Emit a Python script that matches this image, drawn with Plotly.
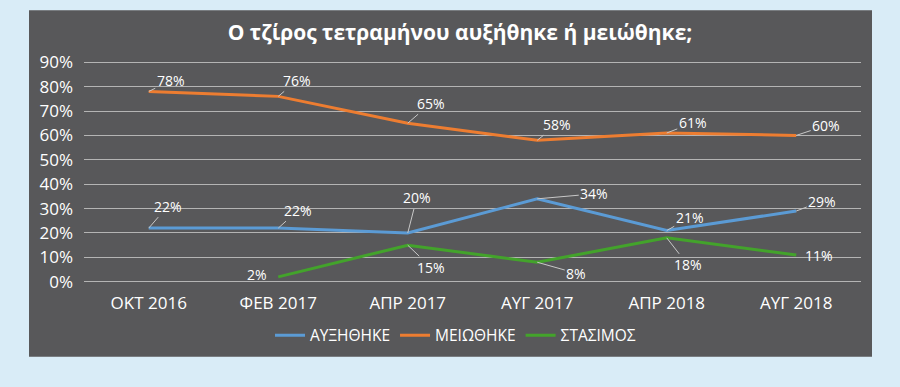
import plotly.graph_objects as go

categories = ["ΟΚΤ 2016", "ΦΕΒ 2017", "ΑΠΡ 2017", "ΑΥΓ 2017", "ΑΠΡ 2018", "ΑΥΓ 2018"]
auxithike = [22, 22, 20, 34, 21, 29]
meiothike = [78, 76, 65, 58, 61, 60]
stasimos = [None, 2, 15, 8, 18, 11]
y_ticks = [0, 10, 20, 30, 40, 50, 60, 70, 80, 90]
y_tick_labels = [f"{t}%" for t in y_ticks]

series = [
    ("ΑΥΞΗΘΗΚΕ", auxithike, "#5b9bd5"),
    ("ΜΕΙΩΘΗΚΕ", meiothike, "#ed7d31"),
    ("ΣΤΑΣΙΜΟΣ", stasimos, "#43a32b"),
]

# label offsets in pixels (ax, ay, leader)
offsets = {
    "ΜΕΙΩΘΗΚΕ": [(22, -11, True), (19, -16, True), (23, -20, True), (20, -16, True), (26, -10, True), (30, -10, True)],
    "ΑΥΞΗΘΗΚΕ": [(19, -22, True), (20, -18, True), (9, -35, True), (57, -5, True), (23, -13, True), (26, -10, True)],
    "ΣΤΑΣΙΜΟΣ": [None, (-21, -2, False), (23, 22, True), (39, 11, True), (21, 27, True), (23, 1, False)],
}

FONT = "Open Sans"
fig = go.Figure()
for name, vals, color in series:
    fig.add_trace(go.Scatter(
        x=categories, y=vals, name=name, mode="lines",
        line=dict(color=color, width=3), connectgaps=False,
    ))

annotations = []
for name, vals, color in series:
    for i, v in enumerate(vals):
        if v is None:
            continue
        ax, ay, leader = offsets[name][i]
        if leader:
            annotations.append(dict(
                x=categories[i], y=v, text=f"{v}%", showarrow=True,
                ax=ax, ay=ay, arrowhead=0, arrowwidth=1, arrowcolor="#c8c8c8",
                font=dict(family=FONT, size=14, color="white"),
            ))
        else:
            annotations.append(dict(
                x=categories[i], y=v, text=f"{v}%", showarrow=False,
                xshift=ax, yshift=-ay,
                font=dict(family=FONT, size=14, color="white"),
            ))

W, H = 900, 387
L, R, T, B = 84, 39, 60.8, 103.8
ph = H - T - B
pw = W - L - R

def px_x(p):
    return (p - L) / pw

def px_y(p):
    return (H - B - p) / ph

fig.add_shape(type="rect", xref="paper", yref="paper",
              x0=px_x(29), x1=px_x(872), y0=px_y(357), y1=px_y(10),
              fillcolor="#58585a", line=dict(width=0), layer="below")

fig.update_layout(
    width=W, height=H,
    margin=dict(l=L, r=R, t=T, b=B),
    paper_bgcolor="#d9ecf7",
    plot_bgcolor="rgba(0,0,0,0)",
    font=dict(family=FONT, color="white"),
    title=dict(text="<b>Ο τζίρος τετραμήνου αυξήθηκε ή μειώθηκε;</b>",
               x=460 / W, xanchor="center", y=1 - 33 / H, yanchor="middle",
               font=dict(family=FONT, size=21, color="white")),
    xaxis=dict(range=[-0.5, 5.5], showgrid=False, zeroline=False, showline=False,
               ticks="", tickfont=dict(family=FONT, size=17, color="white"),
               ticklabelstandoff=8),
    yaxis=dict(range=[-0.5, 90.5], tickmode="array", tickvals=y_ticks, ticktext=y_tick_labels,
               showgrid=True, gridcolor="#b4b4b4", gridwidth=1, zeroline=False,
               showline=False, ticks="", tickfont=dict(family=FONT, size=17, color="white"),
               ticklabelstandoff=10),
    legend=dict(orientation="h", x=0.5 - (472 - 455) / pw, xanchor="center",
                y=px_y(336), yanchor="middle",
                font=dict(family=FONT, size=15.5, color="white"),
                bgcolor="rgba(0,0,0,0)", itemwidth=30, tracegroupgap=0),
    annotations=annotations,
    showlegend=True,
)

fig.write_html("out.html", config={"displayModeBar": False},
               post_script="document.body.style.margin='0';document.body.style.background='#d9ecf7';")
